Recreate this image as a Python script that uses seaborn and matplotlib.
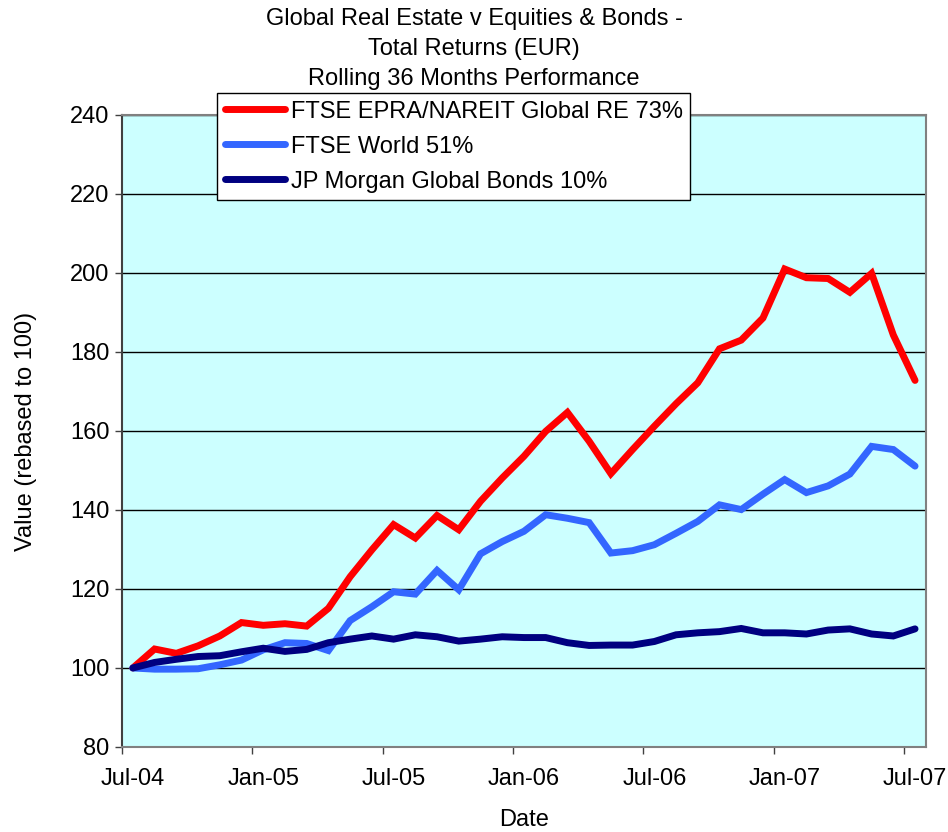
import numpy as np
import pandas as pd
import matplotlib
matplotlib.use("Agg")
import matplotlib.pyplot as plt
import seaborn as sns

# monthly points, Jul-04 .. Jul-07 (rebased to 100)
months = pd.date_range("2004-07-01", "2007-07-01", freq="MS")

re_global = [100.0, 104.8, 103.7, 105.6, 108.1, 111.5, 110.8, 111.2, 110.6, 115.1,
             123.1, 129.9, 136.3, 132.9, 138.6, 135.0, 142.2, 148.1, 153.6, 159.9,
             164.7, 157.4, 149.2, 155.3, 161.2, 166.9, 172.2, 180.8, 183.0, 188.6,
             201.0, 198.8, 198.6, 195.1, 199.9, 184.3, 172.8]
ftse_world = [100.0, 99.7, 99.7, 99.8, 100.8, 102.0, 104.6, 106.4, 106.2, 104.4,
              112.0, 115.5, 119.3, 118.7, 124.7, 119.8, 128.9, 132.0, 134.6, 138.8,
              137.9, 136.8, 129.1, 129.7, 131.2, 134.1, 137.1, 141.3, 140.1, 144.0,
              147.7, 144.4, 146.1, 149.1, 156.1, 155.3, 151.1]
jpm_bonds = [100.0, 101.4, 102.2, 102.9, 103.1, 104.1, 105.0, 104.2, 104.7, 106.4,
             107.3, 108.1, 107.3, 108.4, 107.9, 106.8, 107.3, 107.9, 107.7, 107.7,
             106.4, 105.7, 105.8, 105.8, 106.7, 108.4, 108.9, 109.2, 110.0, 108.9,
             108.9, 108.6, 109.6, 109.9, 108.6, 108.1, 109.9]

series_names = ["FTSE EPRA/NAREIT Global RE 73%", "FTSE World 51%",
                "JP Morgan Global Bonds 10%"]
colors = ["#FF0000", "#3366FF", "#000080"]

tick_labels = ["Jul-04", "Jan-05", "Jul-05", "Jan-06", "Jul-06", "Jan-07", "Jul-07"]

n = len(months)
df = pd.DataFrame({
    "idx": np.tile(np.arange(n), 3),
    "value": re_global + ftse_world + jpm_bonds,
    "series": np.repeat(series_names, n),
})

sns.set_style("white")
plt.rcParams["font.family"] = ["Liberation Sans", "DejaVu Sans"]
plt.rcParams["text.color"] = "black"
plt.rcParams["axes.labelcolor"] = "black"
plt.rcParams["xtick.color"] = "black"
plt.rcParams["ytick.color"] = "black"

fig = plt.figure(figsize=(9.48, 8.32), dpi=100)
ax = fig.add_axes([0.1287, 0.1022, 0.848, 0.7596])
ax.set_facecolor("#CCFFFF")

sns.lineplot(data=df, x="idx", y="value", hue="series", hue_order=series_names,
             palette=colors, linewidth=5, ax=ax, legend=True,
             solid_joinstyle="miter", solid_capstyle="round")

ax.set_xlim(-0.5, n - 0.5)
ax.set_ylim(80, 240)
ax.set_yticks(np.arange(80, 241, 20))
ax.yaxis.grid(True, color="black", linewidth=1)
ax.set_axisbelow(True)

# labels at the category, tick marks at category boundaries
ax.set_xticks(np.arange(0, n, 6))
ax.set_xticklabels(tick_labels)
ax.set_xticks(np.arange(-0.5, n, 6), minor=True)
ax.tick_params(axis="x", which="major", length=0, pad=15, labelsize=17)
ax.tick_params(axis="x", which="minor", length=5, width=1, color="#404040",
               direction="out", bottom=True)
ax.tick_params(axis="y", length=5, width=1, color="#404040", direction="out",
               left=True, pad=4, labelsize=17)

for side in ["top", "right", "bottom", "left"]:
    ax.spines[side].set_color("#808080")
    ax.spines[side].set_linewidth(1.5)
ax.spines["left"].set_color("#404040")

ax.set_xlabel("Date", fontsize=17, labelpad=14)
ax.set_ylabel("Value (rebased to 100)", fontsize=17, labelpad=24)

fig.text(0.5, 0.99, "Global Real Estate v Equities & Bonds -\nTotal Returns (EUR)\nRolling 36 Months Performance",
         ha="center", va="top", fontsize=17, linespacing=1.45)

handles, labels = ax.get_legend_handles_labels()
leg = ax.legend(handles, labels, loc="upper left", bbox_to_anchor=(217 / 948, 1 - 93 / 832),
                bbox_transform=fig.transFigure, borderaxespad=0, fontsize=17,
                frameon=True, fancybox=False, edgecolor="black", facecolor="white",
                framealpha=1, handlelength=2.55, handletextpad=0.25, labelspacing=0.55,
                borderpad=0.32)
leg.get_frame().set_linewidth(1)
for line in leg.get_lines():
    line.set_linewidth(5)

fig.savefig("out.png", dpi=100)
